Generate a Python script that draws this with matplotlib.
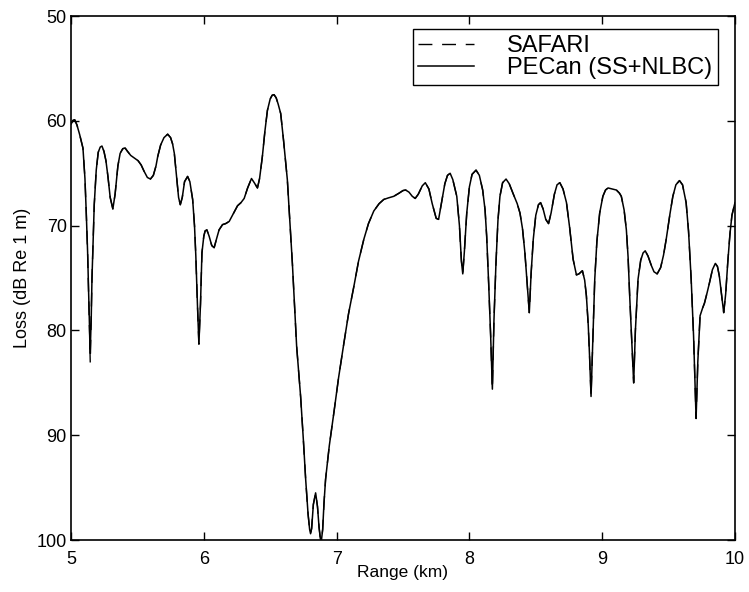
import matplotlib
matplotlib.use("Agg")
import matplotlib.pyplot as plt

plt.rcParams['font.family'] = ['Liberation Sans', 'DejaVu Sans']
plt.rcParams['font.size'] = 13

# range (km) and transmission loss (dB re 1 m)
range_km = [
    5.000, 5.015, 5.028, 5.045, 5.065, 5.090, 5.105, 5.115, 5.125, 5.133,
    5.140, 5.145, 5.152, 5.158, 5.165, 5.175, 5.190, 5.205, 5.220, 5.233,
    5.248, 5.263, 5.278, 5.295, 5.315, 5.332, 5.353, 5.370, 5.390, 5.408,
    5.425, 5.450, 5.478, 5.505, 5.528, 5.550, 5.575, 5.598, 5.620, 5.640,
    5.653, 5.675, 5.700, 5.728, 5.750, 5.765, 5.778, 5.795, 5.810, 5.823,
    5.838, 5.855, 5.878, 5.895, 5.916, 5.930, 5.940, 5.952, 5.963, 5.975,
    5.986, 6.000, 6.010, 6.023, 6.040, 6.060, 6.078, 6.095, 6.115, 6.141,
    6.165, 6.191, 6.220, 6.254, 6.280, 6.304, 6.330, 6.359, 6.380, 6.404,
    6.420, 6.441, 6.460, 6.479, 6.500, 6.515, 6.529, 6.545, 6.560, 6.579,
    6.600, 6.629, 6.648, 6.667, 6.685, 6.699, 6.729, 6.750, 6.767, 6.785,
    6.797, 6.804, 6.812, 6.825, 6.842, 6.856, 6.868, 6.878, 6.886, 6.895,
    6.905, 6.917, 6.945, 6.980, 7.015, 7.055, 7.090, 7.130, 7.165, 7.205,
    7.240, 7.280, 7.320, 7.355, 7.390, 7.430, 7.470, 7.500, 7.520, 7.545,
    7.570, 7.592, 7.615, 7.645, 7.668, 7.695, 7.720, 7.750, 7.768, 7.790,
    7.815, 7.835, 7.855, 7.875, 7.905, 7.925, 7.940, 7.950, 7.962, 7.980,
    8.000, 8.020, 8.050, 8.075, 8.100, 8.118, 8.130, 8.145, 8.160, 8.173,
    8.185, 8.200, 8.215, 8.230, 8.250, 8.276, 8.300, 8.331, 8.360, 8.381,
    8.400, 8.418, 8.435, 8.451, 8.465, 8.481, 8.500, 8.520, 8.536, 8.555,
    8.575, 8.596, 8.615, 8.640, 8.660, 8.681, 8.705, 8.731, 8.755, 8.781,
    8.806, 8.825, 8.851, 8.868, 8.881, 8.895, 8.905, 8.916, 8.928, 8.944,
    8.960, 8.981, 9.005, 9.025, 9.044, 9.075, 9.107, 9.130, 9.144, 9.165,
    9.182, 9.195, 9.207, 9.222, 9.237, 9.250, 9.270, 9.290, 9.308, 9.324,
    9.345, 9.370, 9.390, 9.414, 9.440, 9.462, 9.482, 9.510, 9.532, 9.555,
    9.582, 9.605, 9.632, 9.650, 9.670, 9.688, 9.707, 9.720, 9.737, 9.755,
    9.770, 9.790, 9.807, 9.830, 9.852, 9.868, 9.882, 9.898, 9.915, 9.930,
    9.945, 9.962, 9.977, 10.000]

pecan_loss = [
    60.3, 59.95, 59.9, 60.4, 61.3, 62.6, 65.5, 68.8, 72.5, 76.7,
    80.0, 81.8, 79.0, 75.0, 72.0, 68.0, 64.7, 63.0, 62.5, 62.4,
    62.9, 63.8, 65.3, 67.3, 68.4, 67.0, 64.3, 63.1, 62.65, 62.6,
    62.9, 63.3, 63.55, 63.8, 64.2, 64.8, 65.4, 65.55, 65.2, 64.3,
    63.4, 62.3, 61.6, 61.27, 61.6, 62.2, 63.1, 65.3, 67.3, 68.0,
    67.3, 65.8, 65.3, 65.8, 67.5, 70.0, 72.9, 77.5, 81.3, 77.5,
    72.6, 71.0, 70.5, 70.4, 71.0, 71.9, 72.1, 71.3, 70.4, 69.9,
    69.8, 69.6, 68.9, 68.1, 67.8, 67.4, 66.4, 65.5, 65.9, 66.4,
    65.5, 63.4, 61.0, 59.0, 57.9, 57.55, 57.5, 57.8, 58.4, 59.3,
    61.8, 65.6, 69.6, 73.6, 78.0, 81.5, 86.3, 90.5, 94.2, 97.5,
    99.0, 99.4, 98.9, 96.6, 95.5, 96.8, 98.8, 99.9, 100.0, 99.0,
    96.5, 94.2, 91.0, 87.8, 84.5, 81.2, 78.4, 75.8, 73.4, 71.3,
    69.8, 68.6, 67.9, 67.5, 67.35, 67.2, 66.9, 66.65, 66.6, 66.8,
    67.2, 67.4, 67.0, 66.2, 65.9, 66.5, 67.9, 69.3, 69.4, 67.8,
    66.0, 65.2, 65.0, 65.6, 67.2, 70.0, 73.4, 74.6, 72.5, 68.8,
    66.3, 65.1, 64.7, 65.2, 66.6, 68.5, 71.0, 75.5, 80.5, 85.6,
    79.0, 73.6, 69.5, 67.2, 65.9, 65.55, 66.0, 67.0, 67.9, 68.8,
    70.3, 72.6, 75.5, 78.3, 74.5, 71.3, 69.0, 68.0, 67.8, 68.4,
    69.4, 69.8, 68.8, 67.0, 66.1, 65.9, 66.5, 67.8, 70.2, 73.2,
    74.7, 74.6, 74.3, 75.2, 76.7, 79.5, 82.5, 86.3, 81.5, 75.1,
    71.5, 68.8, 67.2, 66.6, 66.4, 66.5, 66.6, 66.9, 67.2, 68.5,
    70.4, 73.0, 76.7, 80.8, 85.0, 80.0, 75.1, 73.3, 72.6, 72.4,
    72.9, 73.8, 74.4, 74.6, 74.0, 72.8, 71.3, 68.9, 67.2, 66.1,
    65.7, 66.1, 67.8, 70.5, 75.1, 80.5, 88.4, 83.0, 78.6, 77.9,
    77.4, 76.4, 75.5, 74.2, 73.6, 73.9, 74.8, 76.5, 78.3, 76.5,
    73.6, 70.8, 69.0, 67.8]

safari_loss = [
    60.3, 59.95, 59.9, 60.4, 61.3, 62.6, 65.5, 68.8, 72.5, 76.7,
    80.5, 83.1, 79.0, 75.0, 72.0, 68.0, 64.7, 63.0, 62.5, 62.4,
    62.9, 63.8, 65.3, 67.3, 68.4, 67.0, 64.3, 63.1, 62.65, 62.6,
    62.9, 63.3, 63.55, 63.8, 64.2, 64.8, 65.4, 65.55, 65.2, 64.3,
    63.4, 62.3, 61.6, 61.27, 61.6, 62.2, 63.1, 65.3, 67.3, 68.0,
    67.3, 65.8, 65.3, 65.8, 67.5, 70.0, 72.9, 77.5, 81.3, 77.5,
    72.6, 71.0, 70.5, 70.4, 71.0, 71.9, 72.1, 71.3, 70.4, 69.9,
    69.8, 69.6, 68.9, 68.1, 67.8, 67.4, 66.4, 65.5, 65.9, 66.4,
    65.5, 63.4, 61.0, 59.0, 57.9, 57.55, 57.5, 57.8, 58.4, 59.3,
    61.8, 65.6, 69.6, 73.6, 78.0, 81.5, 86.3, 90.5, 94.2, 97.5,
    99.0, 99.4, 98.9, 96.6, 95.5, 96.8, 98.8, 99.9, 100.0, 99.0,
    96.5, 94.2, 91.0, 87.8, 84.5, 81.2, 78.4, 75.8, 73.4, 71.3,
    69.8, 68.6, 67.9, 67.5, 67.35, 67.2, 66.9, 66.65, 66.6, 66.8,
    67.2, 67.4, 67.0, 66.2, 65.9, 66.5, 67.9, 69.3, 69.4, 67.8,
    66.0, 65.2, 65.0, 65.6, 67.2, 70.0, 73.4, 74.6, 72.5, 68.8,
    66.3, 65.1, 64.7, 65.2, 66.6, 68.5, 71.0, 75.5, 80.5, 85.6,
    79.0, 73.6, 69.5, 67.2, 65.9, 65.55, 66.0, 67.0, 67.9, 68.8,
    70.3, 72.6, 75.5, 78.3, 74.5, 71.3, 69.0, 68.0, 67.8, 68.4,
    69.4, 69.8, 68.8, 67.0, 66.1, 65.9, 66.5, 67.8, 70.2, 73.2,
    74.7, 74.6, 74.3, 75.2, 76.7, 79.5, 82.5, 86.3, 81.5, 75.1,
    71.5, 68.8, 67.2, 66.6, 66.4, 66.5, 66.6, 66.9, 67.2, 68.5,
    70.4, 73.0, 76.7, 80.8, 85.0, 80.0, 75.1, 73.3, 72.6, 72.4,
    72.9, 73.8, 74.4, 74.6, 74.0, 72.8, 71.3, 68.9, 67.2, 66.1,
    65.7, 66.1, 67.8, 70.5, 75.1, 80.5, 88.4, 83.0, 78.6, 77.9,
    77.4, 76.4, 75.5, 74.2, 73.6, 73.9, 74.8, 76.5, 78.3, 76.5,
    73.6, 70.8, 69.0, 67.8]

fig = plt.figure(figsize=(7.49, 5.92), dpi=100)
ax = fig.add_axes([0.0948, 0.0878, 0.8865, 0.885])

ax.plot(range_km, safari_loss, color='black', lw=1.0, ls=(0, (10, 7)), label='SAFARI')
ax.plot(range_km, pecan_loss, color='black', lw=1.1, label='PECan (SS+NLBC)')

ax.set_xlim(5, 10)
ax.set_ylim(100, 50)
ax.set_xticks([5, 6, 7, 8, 9, 10])
ax.set_yticks([50, 60, 70, 80, 90, 100])
ax.tick_params(direction='in', top=True, right=True, length=6, width=1)
ax.tick_params(axis='x', pad=8)
ax.tick_params(axis='y', pad=3)
for s in ax.spines.values():
    s.set_linewidth(1.2)

ax.set_xlabel('Range (km)', fontsize=12.5, labelpad=-2)
ax.set_ylabel('Loss (dB Re 1 m)', fontsize=13, labelpad=4)

leg = ax.legend(loc='upper right', bbox_to_anchor=(0.9744, 0.975), frameon=True,
                fancybox=False, edgecolor='black', framealpha=1, fontsize=17,
                handlelength=2.35, handletextpad=1.4, labelspacing=0.0,
                borderpad=0.25, borderaxespad=0)
leg.get_frame().set_linewidth(1.0)

fig.savefig('out.png', dpi=100)
